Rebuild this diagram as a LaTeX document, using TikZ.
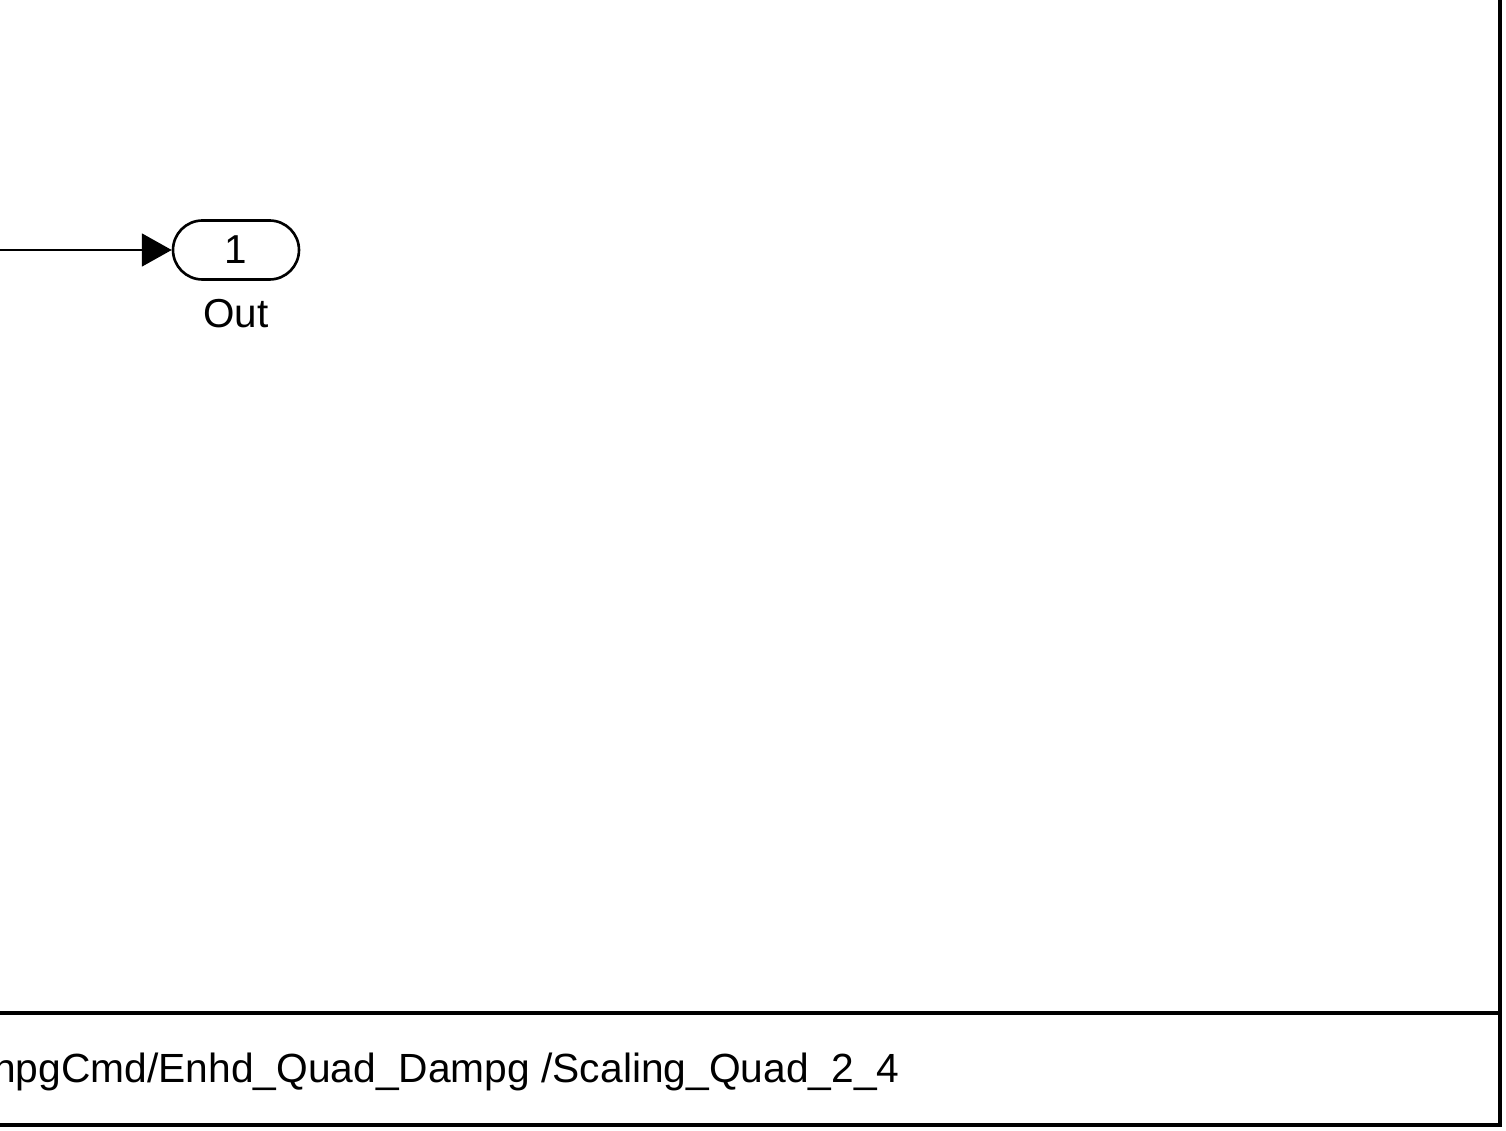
\documentclass[tikz,border=0pt]{standalone}
\usepackage{fontspec}
\setmainfont{Liberation Sans}
\usetikzlibrary{arrows.meta,positioning,shapes.misc}

\tikzset{
  frameline/.style={line width=1.9pt, line cap=rect},
  sigline/.style={line width=1.3pt, -{Triangle[length=17pt,width=18.7pt]}},
  outport/.style={rounded rectangle, draw, line width=1.5pt, minimum width=2.52cm,
    minimum height=1.18cm, inner sep=0pt, font=\fontsize{23}{27}\selectfont},
  blklabel/.style={anchor=base, font=\fontsize{23}{27}\selectfont},
}

\begin{document}
\begin{tikzpicture}[x=0.02cm,y=-0.02cm]
\useasboundingbox (0,0) rectangle (1506,1131);
\clip (0,0) rectangle (1506,1131);
% frame of the subsystem view
\draw[frameline] (-10,1013) -- (1500,1013);
\draw[frameline] (-10,1125) -- (1500,1125) -- (1500,-10);
% output port
\node[outport] (out) at (236,250) {1};
\node[blklabel] (outname) at (236,328) {Out};
\coordinate (src) at (-10,250);
\draw[sigline] (src) -- (out.west);
% model path
\node[anchor=base east, inner sep=0pt, font=\fontsize{23.2}{28}\selectfont] (path) at (900,1082)
  {npgCmd/Enhd\_Quad\_Dampg /Scaling\_Quad\_2\_4};
\end{tikzpicture}
\end{document}
